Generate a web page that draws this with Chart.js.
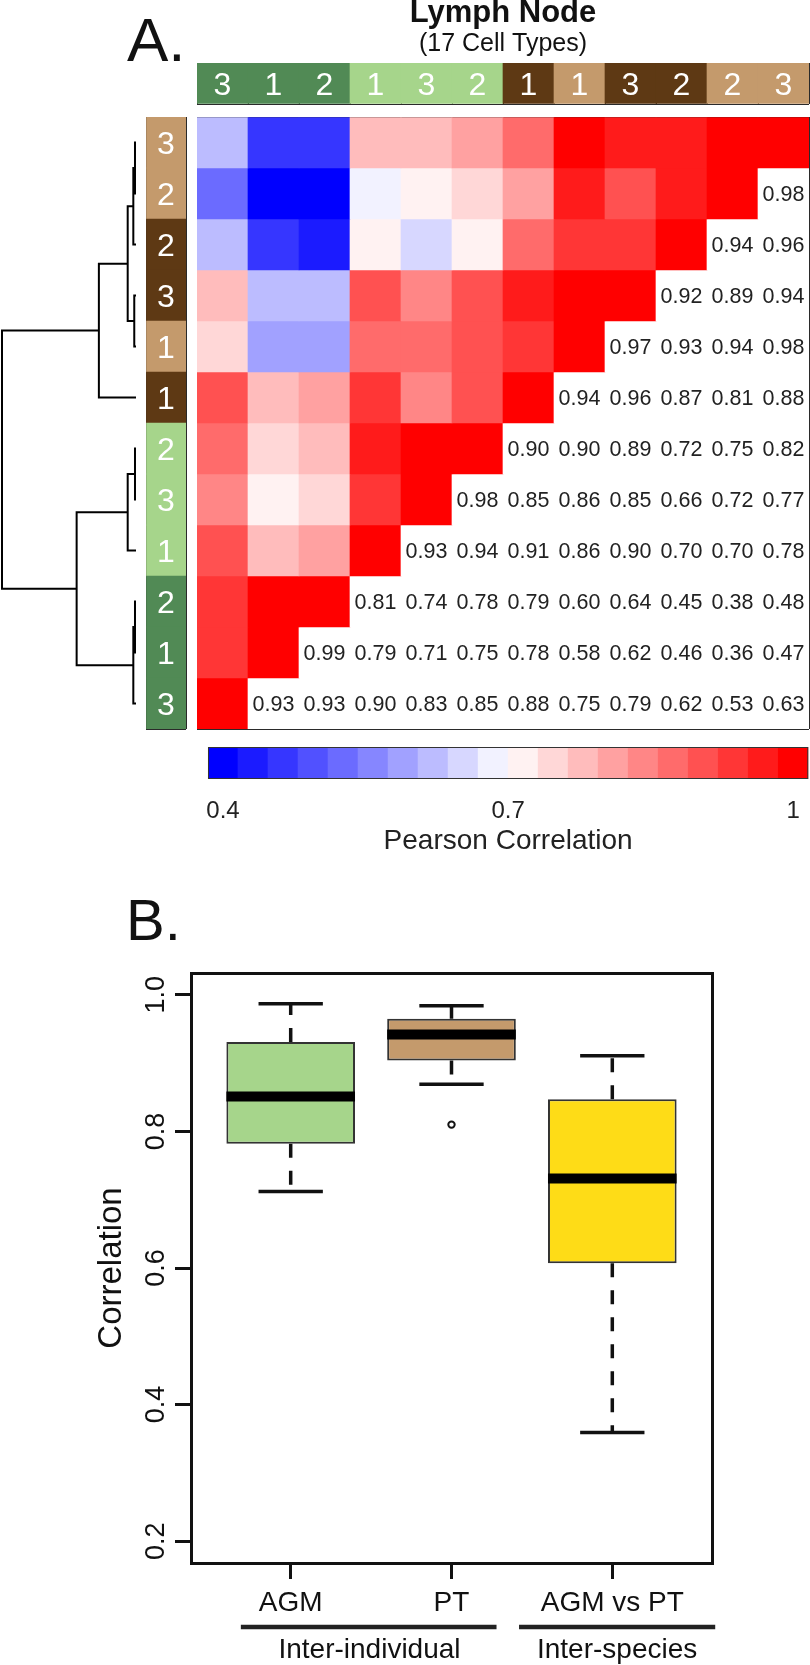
<!DOCTYPE html>
<html><head><meta charset="utf-8">
<script src="https://cdn.jsdelivr.net/npm/chart.js@4.4.1/dist/chart.umd.min.js"></script>
<style>
html,body{margin:0;padding:0;background:#fff;}
body{width:810px;height:1665px;position:relative;overflow:hidden;font-family:"Liberation Sans",Arial,Helvetica,sans-serif;}
canvas{position:absolute;display:block;}
.panel{position:absolute;color:#111;line-height:1;white-space:nowrap;font-family:"Liberation Sans",Arial,Helvetica,sans-serif;}
</style></head><body>
<div class="panel" style="left:127px;top:9px;font-size:62px;">A.</div>
<div class="panel" style="left:126px;top:891px;font-size:58px;">B.</div>
<canvas id="dendro" width="140" height="612" style="left:0px;top:117px;width:140px;height:612px"></canvas>
<canvas id="rowStrip" width="42" height="614" style="left:145px;top:116px;width:42px;height:614px"></canvas>
<canvas id="colStrip" width="614" height="105" style="left:196px;top:0px;width:614px;height:105px"></canvas>
<canvas id="heat" width="614" height="614" style="left:196px;top:116px;width:614px;height:614px"></canvas>
<canvas id="cbar" width="614" height="124" style="left:196px;top:746px;width:614px;height:124px"></canvas>
<canvas id="box" width="810" height="715" style="left:0px;top:950px;width:810px;height:715px"></canvas>
<script>
// ================= DATA =================
// Panel A: rows top -> bottom
const rowLabels = ['3','2','2','3','1','1','2','3','1','2','1','3'];
const rowGroups = ['tan','tan','brown','brown','tan','brown','lightgreen','lightgreen','lightgreen','darkgreen','darkgreen','darkgreen'];
// columns are the rows in reverse order
const colLabels = rowLabels.slice().reverse();
const colGroups = rowGroups.slice().reverse();

// Correlation values shown as numbers (row i holds columns 12-i .. 11)
const corrRow0  = [];
const corrRow1  = [0.98];
const corrRow2  = [0.942, 0.96];
const corrRow3  = [0.92, 0.89, 0.942];
const corrRow4  = [0.972, 0.93, 0.942, 0.98];
const corrRow5  = [0.938, 0.96, 0.87, 0.81, 0.879];
const corrRow6  = [0.90, 0.90, 0.89, 0.72, 0.75, 0.819];
const corrRow7  = [0.98, 0.849, 0.86, 0.849, 0.66, 0.72, 0.77];
const corrRow8  = [0.93, 0.942, 0.911, 0.86, 0.90, 0.701, 0.699, 0.78];
const corrRow9  = [0.81, 0.74, 0.78, 0.791, 0.60, 0.639, 0.45, 0.38, 0.48];
const corrRow10 = [0.99, 0.789, 0.71, 0.75, 0.78, 0.581, 0.62, 0.461, 0.36, 0.47];
const corrRow11 = [0.93, 0.93, 0.90, 0.83, 0.851, 0.881, 0.75, 0.789, 0.62, 0.53, 0.63];

// Dendrogram (hclust style merge table: negative = leaf row, positive = earlier merge)
const dendroMergeA  = [-1, -7, -10, -4, 1, 3, 2, 5, 8, 7, 9];
const dendroMergeB  = [-2, -8, -11, -5, -3, -12, -9, 4, -6, 6, 10];
const dendroHeight  = [0.0075, 0.0075, 0.0075, 0.013, 0.020, 0.020, 0.062, 0.062, 0.277, 0.443, 1.0];

// Colour key
const colorKeyMin = 0.4, colorKeyMax = 1.0, colorKeyBins = 20;
const colorKeyTicks = [0.4, 0.7, 1];
const colorKeyTickLabels = ['0.4', '0.7', '1'];

// Panel B: box plot statistics
const boxLabels = ['AGM', 'PT', 'AGM vs PT'];
const boxMin    = [0.712, 0.869, 0.359];
const boxQ1     = [0.782, 0.904, 0.607];
const boxMedian = [0.851, 0.942, 0.731];
const boxQ3     = [0.931, 0.965, 0.847];
const boxMax    = [0.987, 0.984, 0.911];
const boxOutliers = [[], [0.81], []];
const yTickValues = [0.2, 0.4, 0.6, 0.8, 1.0];
const groupLabels = ['Inter-individual', 'Inter-species'];

// ================= STYLE =================
const FONT = '"Liberation Sans", Arial, Helvetica, sans-serif';
Chart.defaults.font.family = FONT;
Chart.defaults.color = '#111';
const groupColors = {darkgreen:'#518A55', lightgreen:'#A6D58B', brown:'#5E3914', tan:'#C49A6C'};
const boxColors = ['#A6D58B', '#C49A6C', '#FEDC17'];
const gridCol = '#2a2a2a';

const N = rowLabels.length;
const corrRows = [corrRow0,corrRow1,corrRow2,corrRow3,corrRow4,corrRow5,corrRow6,corrRow7,corrRow8,corrRow9,corrRow10,corrRow11];
function shownValue(i, j){ return corrRows[i][j - (N - i)]; }
function cellValue(i, j){
  if (j > N - 1 - i) return shownValue(i, j);
  if (j === N - 1 - i) return 1;
  return shownValue(N - 1 - j, N - 1 - i);
}
function paletteColor(k){
  const t = k / (colorKeyBins - 1);
  let r, g, b;
  if (t <= 0.5){ const f = t / 0.5; r = g = Math.round(255 * f); b = 255; }
  else { const f = (t - 0.5) / 0.5; r = 255; g = b = Math.round(255 * (1 - f)); }
  return `rgb(${r},${g},${b})`;
}
function binOf(v){
  const w = (colorKeyMax - colorKeyMin) / colorKeyBins;
  const k = Math.floor((v - colorKeyMin) / w + 1e-9);
  return Math.max(0, Math.min(colorKeyBins - 1, k));
}
const baseOpts = () => ({
  responsive:false, maintainAspectRatio:false, animation:false, devicePixelRatio:1,
  events:[],
  plugins:{legend:{display:false}, tooltip:{enabled:false}}
});
const unitTicks = (n) => (axis) => { axis.ticks = Array.from({length:n+1}, (_, k) => ({value:k})); };

// ================= DENDROGRAM =================
(function(){
  const nodes = [];
  const ref = (id) => id < 0 ? {y: -id - 1, h: 0} : nodes[id - 1];
  const datasets = [];
  for (let m = 0; m < dendroHeight.length; m++){
    const a = ref(dendroMergeA[m]), b = ref(dendroMergeB[m]), h = dendroHeight[m];
    nodes.push({y:(a.y + b.y) / 2, h});
    datasets.push({
      data:[{x:a.h, y:a.y}, {x:h, y:a.y}, {x:h, y:b.y}, {x:b.h, y:b.y}],
      showLine:true, borderColor:'#000', borderWidth:2, pointRadius:0, clip:false, tension:0
    });
  }
  const o = baseOpts();
  o.layout = {padding:{left:2, right:4, top:0, bottom:0}};
  o.scales = {
    x:{type:'linear', min:0, max:1, reverse:true, display:false},
    y:{type:'linear', min:-0.5, max:N - 0.5, reverse:true, display:false}
  };
  new Chart(document.getElementById('dendro'), {type:'scatter', data:{datasets}, options:o});
})();

// ================= STRIP TEXT PLUGIN =================
function stripTextPlugin(labels, vertical){
  return {
    id:'stripText',
    afterDraw(chart){
      const {ctx, scales:{x, y}} = chart;
      ctx.save();
      ctx.font = `32px ${FONT}`;
      ctx.fillStyle = '#fff';
      ctx.textAlign = 'center';
      ctx.textBaseline = 'alphabetic';
      labels.forEach((lab, k) => {
        const px = vertical ? x.getPixelForValue(0.5) : x.getPixelForValue(k);
        const py = vertical ? y.getPixelForValue(k) : y.getPixelForValue(0.5);
        ctx.fillText(lab, px, py + 11.5);
      });
      ctx.restore();
    }
  };
}

// ================= ROW STRIP =================
(function(){
  const names = rowGroups.map((g, i) => g + ' ' + rowLabels[i] + ' r' + i);
  const o = baseOpts();
  o.indexAxis = 'y';
  o.layout = {padding:1};
  o.scales = {
    y:{type:'category', offset:true, grid:{offset:true, color:gridCol, lineWidth:1, drawTicks:false}, ticks:{display:false}, border:{display:false}, z:1},
    x:{type:'linear', min:0, max:1, afterBuildTicks:unitTicks(1), grid:{color:gridCol, lineWidth:1, drawTicks:false}, ticks:{display:false}, border:{display:false}, z:1}
  };
  new Chart(document.getElementById('rowStrip'), {
    type:'bar',
    data:{labels:names, datasets:[{
      data:rowLabels.map(() => [0, 1]),
      backgroundColor:rowGroups.map(g => groupColors[g]),
      borderWidth:0, barPercentage:1, categoryPercentage:1, grouped:false
    }]},
    options:o,
    plugins:[stripTextPlugin(rowLabels, true)]
  });
})();

// ================= COLUMN STRIP + TITLE =================
(function(){
  const names = colGroups.map((g, j) => g + ' ' + colLabels[j] + ' c' + j);
  const o = baseOpts();
  o.layout = {padding:{left:1, right:1, top:0, bottom:1}};
  o.plugins.title = {display:true, text:'Lymph Node', color:'#111',
    font:{size:31, weight:'bold', lineHeight:0.86}, padding:{top:0, bottom:0}};
  o.plugins.subtitle = {display:true, text:'(17 Cell Types)', color:'#111',
    font:{size:25, weight:'normal', lineHeight:1}, padding:{top:5, bottom:6.34}};
  o.scales = {
    x:{type:'category', offset:true, grid:{offset:true, color:gridCol, lineWidth:1, drawTicks:false}, ticks:{display:false}, border:{display:false}, z:1},
    y:{type:'linear', min:0, max:1, afterBuildTicks:unitTicks(1), grid:{color:gridCol, lineWidth:1, drawTicks:false}, ticks:{display:false}, border:{display:false}, z:1}
  };
  new Chart(document.getElementById('colStrip'), {
    type:'bar',
    data:{labels:names, datasets:[{
      data:colLabels.map(() => [0, 1]),
      backgroundColor:colGroups.map(g => groupColors[g]),
      borderWidth:0, barPercentage:1, categoryPercentage:1, grouped:false
    }]},
    options:o,
    plugins:[stripTextPlugin(colLabels, false)]
  });
})();

// ================= HEATMAP =================
(function(){
  const names = colGroups.map((g, j) => g + ' ' + colLabels[j] + ' c' + j);
  const datasets = corrRows.map((_, i) => ({
    data:names.map(() => [i, i + 1]),
    backgroundColor:names.map((_, j) => j > N - 1 - i ? '#ffffff' : paletteColor(binOf(cellValue(i, j)))),
    borderWidth:0, barPercentage:1, categoryPercentage:1, grouped:false
  }));
  const textPlugin = {
    id:'heatText',
    afterDraw(chart){
      const {ctx, scales:{x, y}} = chart;
      ctx.save();
      ctx.font = `21.5px ${FONT}`;
      ctx.fillStyle = '#222';
      ctx.textAlign = 'center';
      ctx.textBaseline = 'alphabetic';
      for (let i = 0; i < N; i++){
        for (let j = N - i; j < N; j++){
          ctx.fillText(shownValue(i, j).toFixed(2), x.getPixelForValue(j), y.getPixelForValue(i + 0.5) + 7.7);
        }
      }
      ctx.restore();
    }
  };
  const o = baseOpts();
  o.layout = {padding:1};
  o.scales = {
    x:{type:'category', offset:true, grid:{offset:true, color:gridCol, lineWidth:1, drawTicks:false}, ticks:{display:false}, border:{display:false}, z:1},
    y:{type:'linear', min:0, max:N, reverse:true, afterBuildTicks:unitTicks(N), grid:{color:gridCol, lineWidth:1, drawTicks:false}, ticks:{display:false}, border:{display:false}, z:1}
  };
  new Chart(document.getElementById('heat'), {type:'bar', data:{labels:names, datasets}, options:o, plugins:[textPlugin]});
})();

// ================= FRAME PLUGIN =================
function framePlugin(width, color){
  return {
    id:'frame',
    afterDatasetsDraw(chart){
      const {ctx, chartArea:a} = chart;
      ctx.save();
      ctx.strokeStyle = color; ctx.lineWidth = width;
      const off = (width % 2) ? 0.5 : 0;
      if (width === 1) ctx.strokeRect(a.left + 0.5, a.top + 0.5, a.right - a.left - 1, a.bottom - a.top - 1);
      else ctx.strokeRect(Math.round(a.left) + off, Math.round(a.top) + off, Math.round(a.right - a.left), Math.round(a.bottom - a.top));
      ctx.restore();
    }
  };
}

// ================= COLOUR KEY =================
(function(){
  const bins = Array.from({length:colorKeyBins}, (_, k) => k);
  const keyPos = (v) => 0.5 + (v - colorKeyMin) / (colorKeyMax - colorKeyMin) * (colorKeyBins - 1);
  const o = baseOpts();
  o.layout = {padding:{left:1, right:1, top:1, bottom:0}};
  o.scales = {
    x:{type:'linear', min:0, max:colorKeyBins, offset:false,
      afterBuildTicks:(axis) => { axis.ticks = colorKeyTicks.map(v => ({value:keyPos(v)})); },
      afterFit:(s) => { s.height = 91; },
      grid:{display:false, offset:false}, border:{display:false},
      ticks:{font:{size:24}, color:'#222', padding:10.3, maxRotation:0, autoSkip:false,
        callback:(val) => { const k = colorKeyTicks.findIndex(v => Math.abs(keyPos(v) - val) < 1e-6); return k >= 0 ? colorKeyTickLabels[k] : ''; }},
      title:{display:true, text:'Pearson Correlation', color:'#222', font:{size:28}, padding:{top:0, bottom:11.9}}
    },
    y:{type:'linear', min:0, max:1, display:false}
  };
  new Chart(document.getElementById('cbar'), {
    type:'bar',
    data:{datasets:[{
      data:bins.map(k => ({x:k + 0.5, y:[0, 1]})),
      backgroundColor:bins.map(k => paletteColor(k)),
      borderWidth:0, barPercentage:1, categoryPercentage:1, grouped:false
    }]},
    options:o,
    plugins:[framePlugin(1, '#333')]
  });
})();

// ================= BOX PLOT =================
(function(){
  const pos = boxLabels.map((_, i) => i + 1);
  const boxHalf = 0.4, capHalf = 0.2;
  const whiskers = [], caps = [], medians = [], outs = [];
  pos.forEach((p, i) => {
    whiskers.push({x:p, y:boxQ3[i]}, {x:p, y:boxMax[i]}, {x:p, y:null}, {x:p, y:boxQ1[i]}, {x:p, y:boxMin[i]}, {x:p, y:null});
    caps.push({x:p - capHalf, y:boxMax[i]}, {x:p + capHalf, y:boxMax[i]}, {x:p, y:null}, {x:p - capHalf, y:boxMin[i]}, {x:p + capHalf, y:boxMin[i]}, {x:p, y:null});
    medians.push({x:p - boxHalf, y:boxMedian[i]}, {x:p + boxHalf, y:boxMedian[i]}, {x:p, y:null});
    boxOutliers[i].forEach(v => outs.push({x:p, y:v}));
  });
  const datasets = [
    {type:'scatter', data:outs, pointRadius:3.2, pointBorderWidth:2, pointBorderColor:'#111', pointBackgroundColor:'#fff', borderColor:'#111', backgroundColor:'#fff'},
    {type:'line', data:medians, borderColor:'#000', borderWidth:10, borderCapStyle:'butt', pointRadius:0, spanGaps:false, tension:0},
    {type:'bar', data:pos.map((p, i) => ({x:p, y:[boxQ1[i], boxQ3[i]]})), backgroundColor:boxColors, borderColor:'#333', borderWidth:2, borderSkipped:false, barPercentage:boxHalf * 2, categoryPercentage:1, grouped:false},
    {type:'line', data:whiskers, borderColor:'#111', borderWidth:3.5, borderDash:[14, 13], borderCapStyle:'butt', pointRadius:0, spanGaps:false, tension:0},
    {type:'line', data:caps, borderColor:'#111', borderWidth:3.5, borderCapStyle:'butt', pointRadius:0, spanGaps:false, tension:0}
  ];
  const groupPlugin = {
    id:'groups',
    afterDraw(chart, args, opts){
      const {ctx, scales:{x}} = chart;
      ctx.save();
      ctx.strokeStyle = '#222'; ctx.lineWidth = 4.5; ctx.lineCap = 'butt';
      ctx.fillStyle = '#111'; ctx.font = `28px ${FONT}`; ctx.textAlign = 'center'; ctx.textBaseline = 'alphabetic';
      groupLabels.forEach((g, k) => {
        const [a, b] = opts.spans[k];
        ctx.beginPath();
        ctx.moveTo(x.getPixelForValue(a), opts.barY); ctx.lineTo(x.getPixelForValue(b), opts.barY);
        ctx.stroke();
        ctx.fillText(g, x.getPixelForValue(opts.centers[k]), opts.textY);
      });
      ctx.restore();
    }
  };
  const o = baseOpts();
  o.layout = {padding:{left:0, right:98, top:23, bottom:0}};
  o.plugins.groups = {spans:[[0.69, 2.28], [2.42, 3.64]], centers:[1.49, 3.03], barY:677, textY:708};
  o.scales = {
    x:{type:'linear', min:0.38, max:3.62, offset:false,
      afterBuildTicks:(axis) => { axis.ticks = pos.map(v => ({value:v})); },
      afterFit:(s) => { s.height = 102; },
      grid:{display:true, offset:false, drawOnChartArea:false, drawTicks:true, tickLength:16, tickWidth:3, tickColor:'#111'},
      border:{display:false},
      ticks:{font:{size:28}, color:'#111', padding:7.5, maxRotation:0, minRotation:0, autoSkip:false,
        callback:(v) => boxLabels[Math.round(v) - 1] || ''}
    },
    y:{type:'linear', min:0.168, max:1.032,
      afterBuildTicks:(axis) => { axis.ticks = yTickValues.map(v => ({value:v})); },
      afterFit:(s) => { s.width = 191; },
      grid:{display:true, drawOnChartArea:false, drawTicks:true, tickLength:16, tickWidth:3, tickColor:'#111'},
      border:{display:false},
      ticks:{font:{size:27}, color:'#111', padding:0, minRotation:90, maxRotation:90, crossAlign:'center', autoSkip:false,
        callback:(v) => Number(v).toFixed(1)},
      title:{display:true, text:'Correlation', color:'#111', font:{size:33}, padding:{top:92, bottom:0}}
    }
  };
  new Chart(document.getElementById('box'), {type:'bar', data:{datasets}, options:o, plugins:[framePlugin(3, '#111'), groupPlugin]});
})();
</script>
</body></html>
